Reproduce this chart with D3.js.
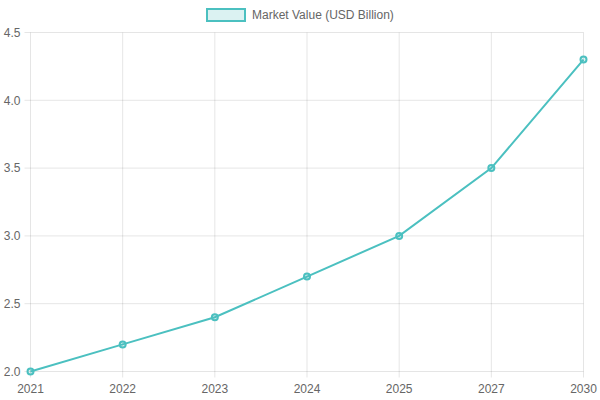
<!DOCTYPE html>
<html><head><meta charset="utf-8">
<script src="https://cdn.jsdelivr.net/npm/d3@7"></script>
<style>body{margin:0;background:#fff}svg{display:block}text{font-family:"Liberation Sans",Arial,Helvetica,sans-serif}</style>
</head><body><svg id="c" width="600" height="400"></svg>
<script>
const years = ["2021","2022","2023","2024","2025","2027","2030"];
const values = [2.0, 2.2, 2.4, 2.7, 3.0, 3.5, 4.3];
const yTicks = [2.0, 2.5, 3.0, 3.5, 4.0, 4.5];
const seriesName = "Market Value (USD Billion)";

const svg = d3.select("#c");
const L = 30.5, R = 583.5, T = 32.5, B = 371.5;
const color = "rgb(75,192,192)";
const x = d3.scalePoint().domain(years).range([L, R]);
const y = d3.scaleLinear().domain([2.0, 4.5]).range([B, T]);
const grid = "rgba(0,0,0,0.1)";

const g = svg.append("g");
// horizontal grid
g.selectAll(".hg").data(yTicks).enter().append("line")
  .attr("x1", L - 6).attr("x2", R).attr("y1", d => y(d)).attr("y2", d => y(d))
  .attr("stroke", grid).attr("stroke-width", 1);
// vertical grid
g.selectAll(".vg").data(years).enter().append("line")
  .attr("x1", d => x(d)).attr("x2", d => x(d)).attr("y1", T).attr("y2", B + 6)
  .attr("stroke", grid).attr("stroke-width", 1);

g.selectAll(".yl").data(yTicks).enter().append("text")
  .attr("x", L - 10).attr("y", d => y(d)).attr("dy", "0.35em")
  .attr("text-anchor", "end").attr("font-size", 12).attr("fill", "#666")
  .text(d => d.toFixed(1));
g.selectAll(".xl").data(years).enter().append("text")
  .attr("x", d => x(d)).attr("y", B + 21)
  .attr("text-anchor", "middle").attr("font-size", 12).attr("fill", "#666")
  .text(d => d);

const line = d3.line().x((d, i) => x(years[i])).y(d => y(d));
svg.append("path").datum(values).attr("d", line)
  .attr("fill", "none").attr("stroke", color).attr("stroke-width", 2);
svg.selectAll(".pt").data(values).enter().append("circle")
  .attr("cx", (d, i) => x(years[i])).attr("cy", d => y(d)).attr("r", 3)
  .attr("fill", "rgba(75,192,192,0.2)").attr("stroke", color).attr("stroke-width", 2);

// legend
const lg = svg.append("g");
lg.append("rect").attr("x", 207).attr("y", 9).attr("width", 38).attr("height", 12)
  .attr("fill", "rgba(75,192,192,0.2)").attr("stroke", color).attr("stroke-width", 2);
lg.append("text").attr("x", 252).attr("y", 15).attr("dy", "0.35em")
  .attr("font-size", 12).attr("fill", "#666").text(seriesName);
</script></body></html>
